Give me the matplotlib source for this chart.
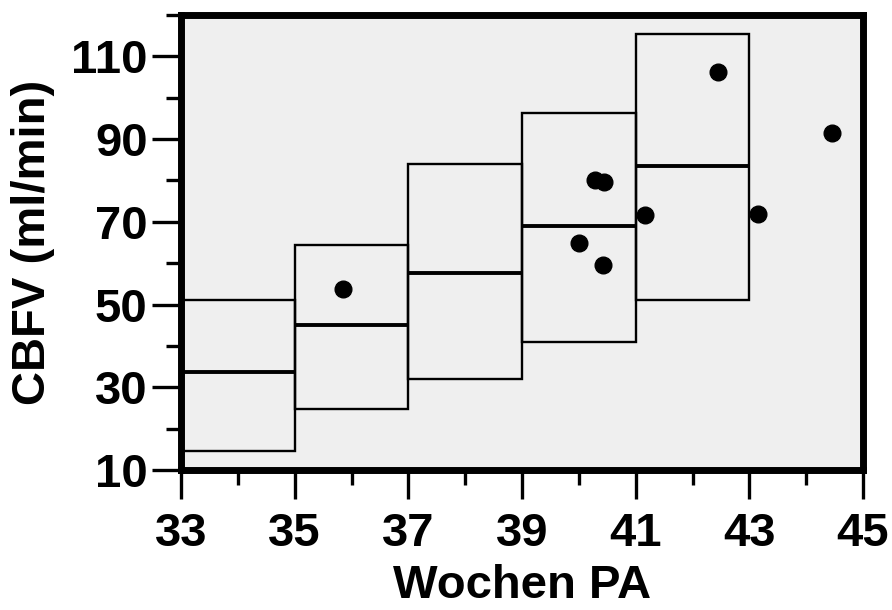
import matplotlib.pyplot as plt
import numpy as np

# Referenzbereiche (Boxen) je 2-Wochen-Intervall
week_start = [33, 35, 37, 39, 41]
box_low = [14.7, 24.8, 32.0, 40.9, 51.2]
box_median = [33.8, 45.0, 57.6, 69.1, 83.4]
box_high = [51.2, 64.3, 84.1, 96.4, 115.5]

# Einzelmessungen
weeks = [35.85, 40.01, 40.28, 40.44, 40.43, 41.16, 42.44, 43.16, 44.45]
cbfv = [53.8, 64.9, 80.0, 79.6, 59.5, 71.6, 106.3, 71.9, 91.5]

x_ticks = [33, 35, 37, 39, 41, 43, 45]
y_ticks = [10, 30, 50, 70, 90, 110]

plt.rcParams['font.family'] = ['Liberation Sans', 'DejaVu Sans']
plt.rcParams['font.weight'] = 'bold'

fig = plt.figure(figsize=(8.92, 6.1), dpi=100)
ax = fig.add_axes([0.203, 0.2295, 0.7645, 0.7459])
ax.set_facecolor('#efefef')

width = 2
heights = np.array(box_high) - np.array(box_low)
ax.bar(week_start, heights, bottom=box_low, width=width, align='edge',
       fill=False, edgecolor='black', linewidth=1.7, zorder=2)
ax.hlines(box_median, week_start, np.array(week_start) + width,
          colors='black', linewidth=2.8, zorder=3)

ax.plot(weeks, cbfv, 'o', color='black', markersize=12, zorder=4,
        clip_on=False)

ax.set_xlim(33, 45)
ax.set_ylim(10, 120)
ax.set_xticks(x_ticks)
ax.set_xticks(np.arange(34, 45, 2), minor=True)
ax.set_yticks(y_ticks)
ax.set_yticks(np.arange(20, 121, 20), minor=True)

for s in ax.spines.values():
    s.set_linewidth(5)
    s.set_zorder(5)

ax.tick_params(axis='both', which='major', length=21, width=2.4,
               labelsize=34, pad=3)
ax.tick_params(axis='both', which='minor', length=11, width=2.4)
ax.tick_params(axis='x', which='major', pad=9)

ax.set_xlabel('Wochen PA', fontsize=34, fontweight='bold', labelpad=6)
ax.set_ylabel('CBFV (ml/min)', fontsize=34, fontweight='bold', labelpad=12)

fig.savefig('out.png', dpi=100)
